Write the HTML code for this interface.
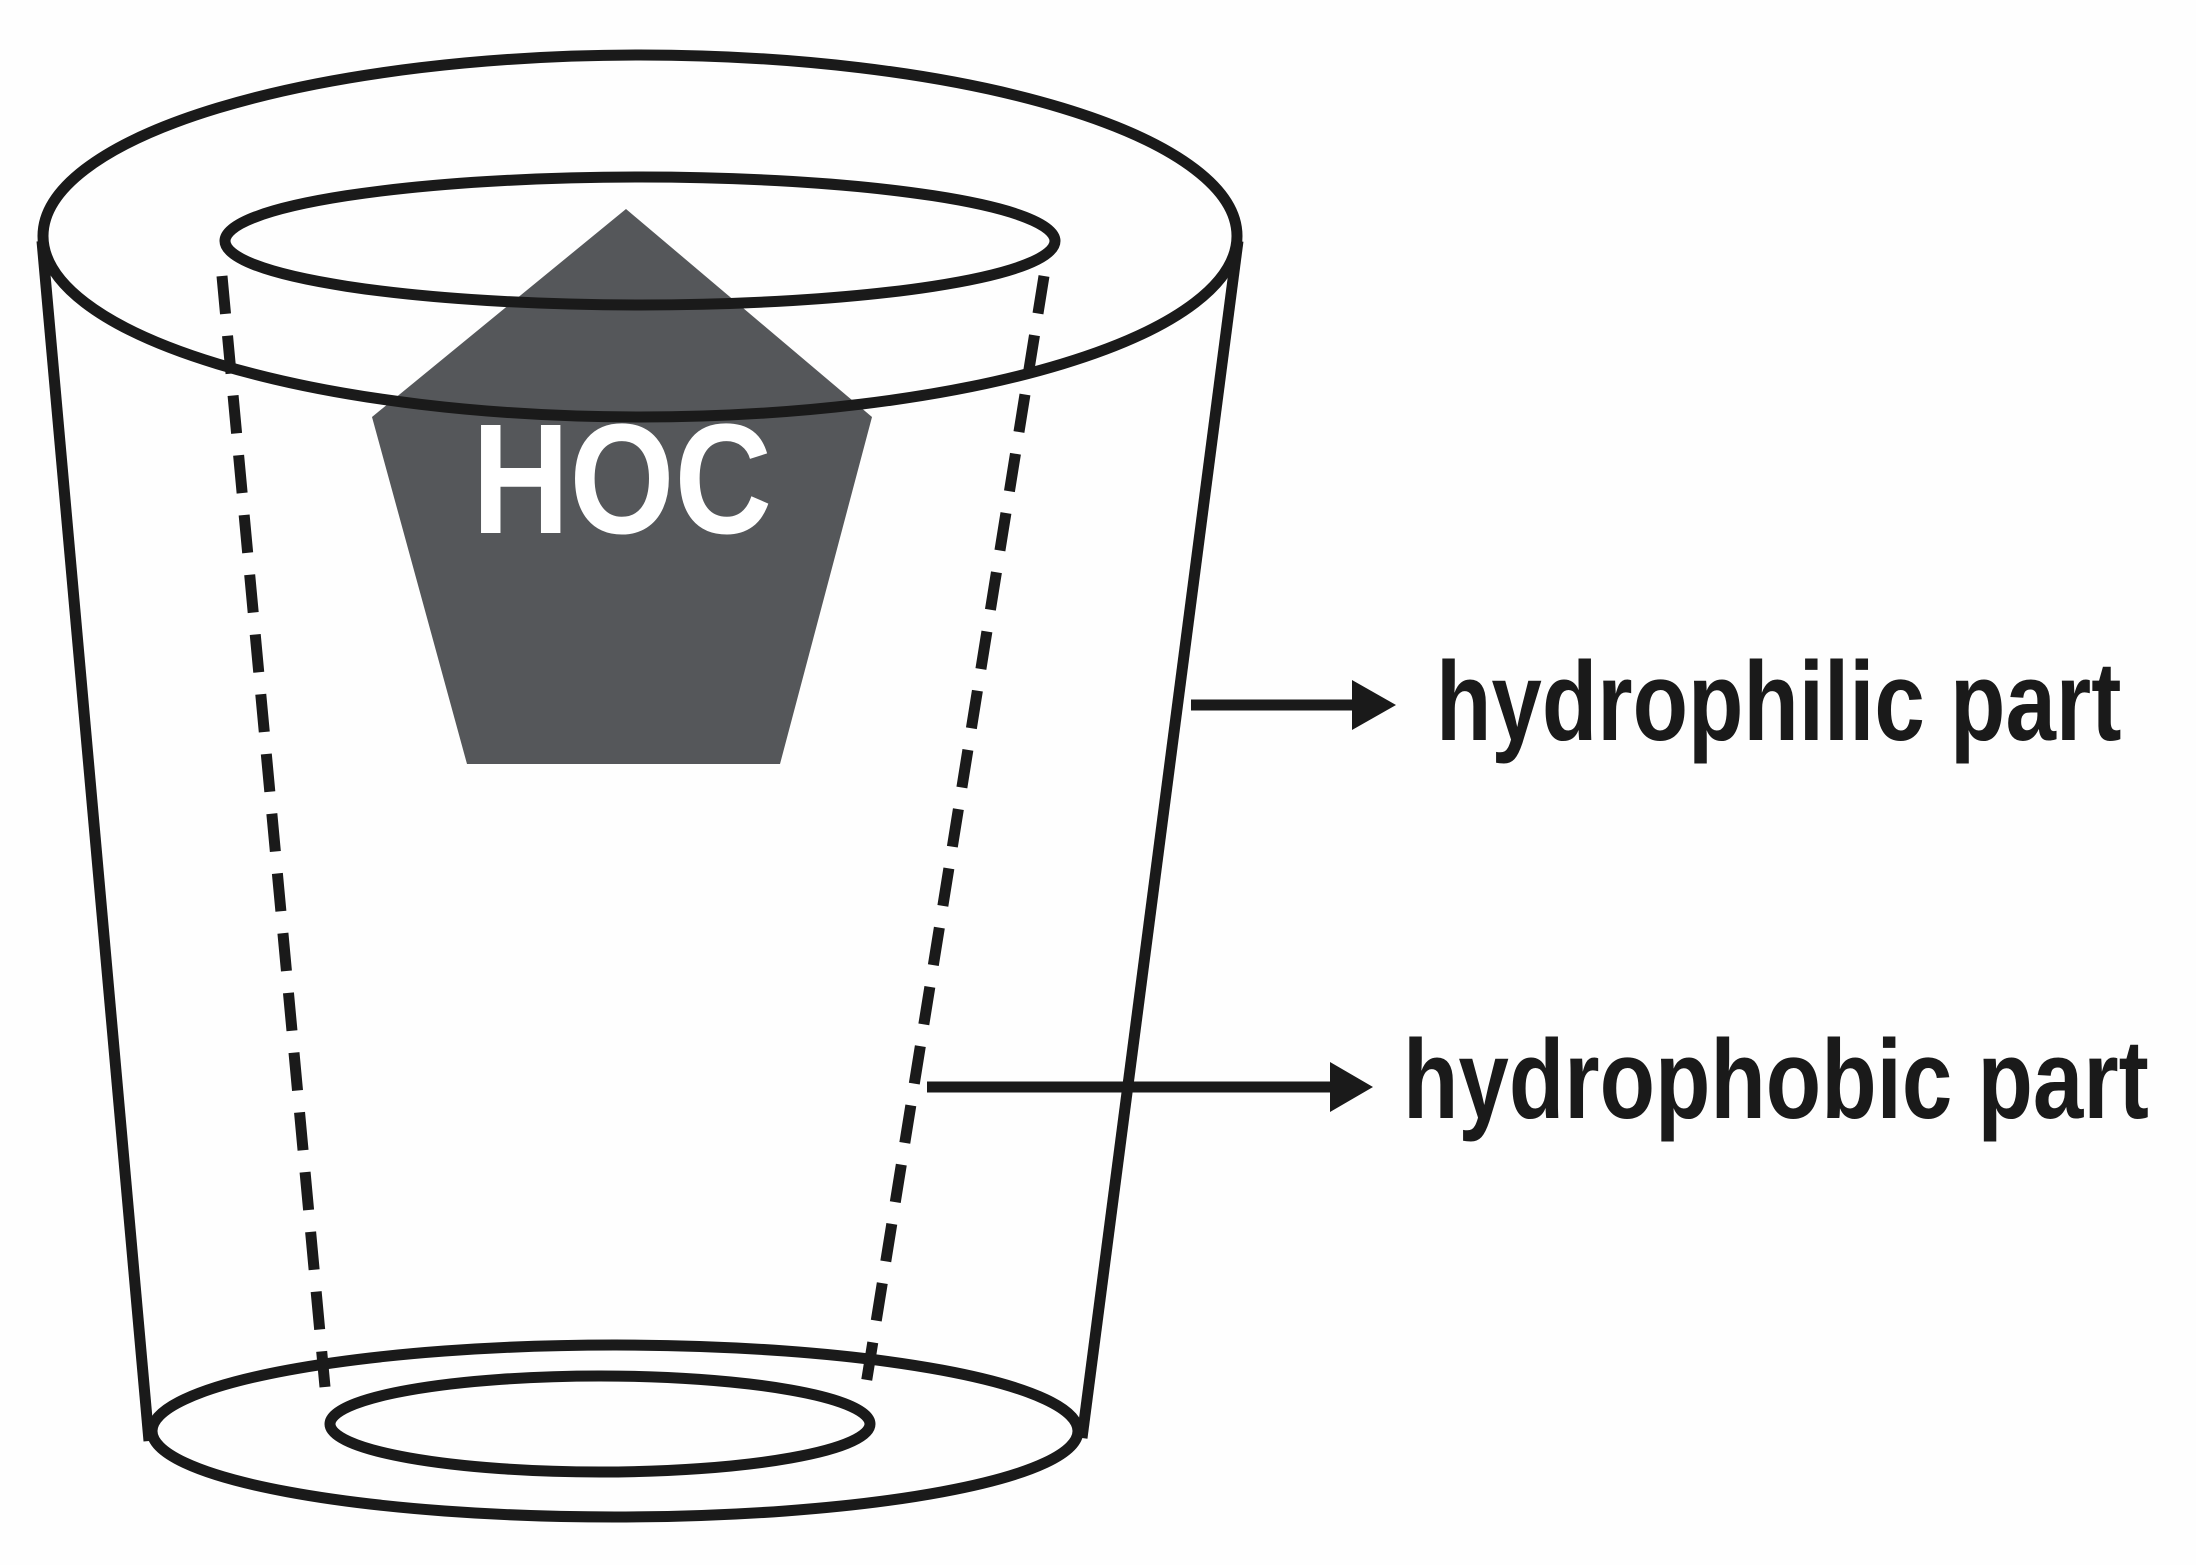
<!DOCTYPE html>
<html><head><meta charset="utf-8"><style>
html,body{margin:0;padding:0;background:#fff;}
svg{display:block;}
</style></head><body>
<svg width="2196" height="1565" viewBox="0 0 2196 1565" xmlns="http://www.w3.org/2000/svg">
<rect width="2196" height="1565" fill="#fefefe"/>
<polygon points="626,209 872,417 780,764 467,764 372,417" fill="#55575a"/>
<text transform="translate(622,533) scale(0.86,1)" fill="#fff" font-family="'Liberation Sans', sans-serif" font-weight="bold" font-size="157" text-anchor="middle">HOC</text>
<g fill="none" stroke="#1a1a1a" stroke-width="11">
<ellipse cx="640" cy="236" rx="597" ry="181"/>
<ellipse cx="640" cy="241" rx="415" ry="64"/>
<ellipse cx="615" cy="1431" rx="463" ry="86"/>
<ellipse cx="600" cy="1424" rx="270" ry="48"/>
<line x1="42" y1="241" x2="149" y2="1441"/>
<line x1="1238" y1="241" x2="1082" y2="1438"/>
<g stroke-dasharray="38,22">
<line x1="222" y1="276" x2="325" y2="1387"/>
<line x1="1044" y1="276" x2="864" y2="1397"/>
</g>
<line x1="1191" y1="705" x2="1360" y2="705"/>
<line x1="927" y1="1087" x2="1340" y2="1087"/>
</g>
<polygon points="1352,680 1396,705 1352,730" fill="#1a1a1a"/>
<polygon points="1330,1062 1373,1087 1330,1112" fill="#1a1a1a"/>
<g font-family="'Liberation Sans', sans-serif" font-weight="bold" font-size="112" fill="#1a1a1a">
<text transform="translate(1436,740) scale(0.81,1)">hydrophilic part</text>
<text transform="translate(1403,1118) scale(0.81,1)">hydrophobic part</text>
</g>
</svg>
</body></html>
